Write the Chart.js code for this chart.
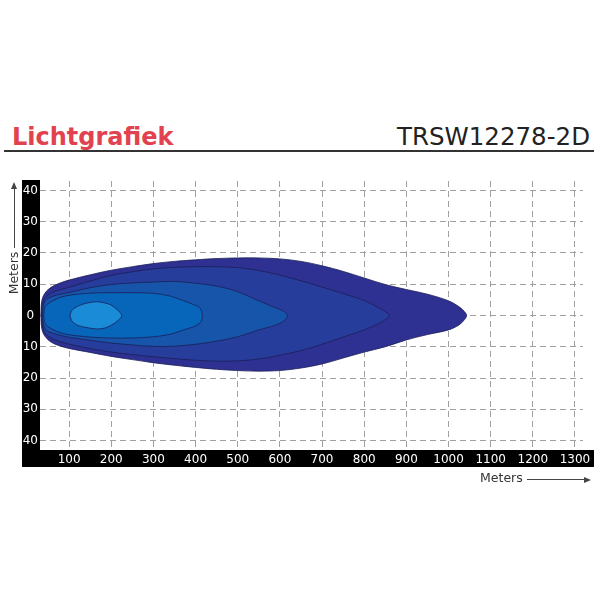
<!DOCTYPE html>
<html>
<head>
<meta charset="utf-8">
<script src="https://cdn.jsdelivr.net/npm/chart.js@4/dist/chart.umd.min.js"></script>
<style>
    body { margin: 0; background: #fff; font-family: "DejaVu Sans", Verdana, sans-serif; }
    #wrap { position: absolute; left: 0; top: 0; width: 600px; height: 600px; }
    .kop { position: absolute; white-space: nowrap; line-height: 24px; }
    #titel { left: 12px; top: 125px; font-size: 24px; font-weight: bold; color: #e2424f; }
    #code { right: 10px; top: 125px; font-size: 24.5px; color: #222; }
    #streep { position: absolute; left: 4px; top: 150px; width: 590px; height: 2px; background: #333; }
    .as { position: absolute; font-size: 12.5px; color: #333; white-space: nowrap; }
    #asY { left: 13px; top: 273px; transform: translate(-50%, -50%) rotate(-90deg); }
    #asX { left: 480px; top: 470px; }
    .pijl { position: absolute; background: #444; }
    #pijlY { left: 13.5px; top: 188px; width: 1px; height: 60px; }
    #pijlX { left: 527px; top: 479px; width: 58px; height: 1px; }
    #kopY { position: absolute; left: 11px; top: 182px; width: 0; height: 0;
        border-left: 3px solid transparent; border-right: 3px solid transparent; border-bottom: 7px solid #444; }
    #kopX { position: absolute; left: 584px; top: 476.5px; width: 0; height: 0;
        border-top: 3px solid transparent; border-bottom: 3px solid transparent; border-left: 7px solid #444; }
</style>
</head>
<body>
<div id="titel" class="kop">Lichtgrafiek</div>
<div id="code" class="kop">TRSW12278-2D</div>
<div id="streep"></div>
<div id="wrap"><canvas id="grafiek"></canvas></div>
<div id="asY" class="as">Meters</div>
<div id="pijlY" class="pijl"></div><div id="kopY"></div>
<div id="asX" class="as">Meters</div>
<div id="pijlX" class="pijl"></div><div id="kopX"></div>

<script>
// tick labels
var xTicks = [100, 200, 300, 400, 500, 600, 700, 800, 900, 1000, 1100, 1200, 1300];
var yTicks = [-40, -30, -20, -10, 0, 10, 20, 30, 40];

// lichtzones, van buiten (zwakst) naar binnen (sterkst)
var zone1X = [33, 35, 42, 55, 75, 102, 150, 197, 250, 300, 350, 400, 450, 500, 550, 600, 650, 700, 750, 800, 850, 900, 950, 1000, 1025, 1038, 1043,
    1038, 1025, 1000, 950, 900, 850, 800, 750, 700, 650, 600, 550, 500, 450, 400, 350, 300, 250, 197, 150, 102, 75, 55, 42, 35, 33];
var zone1Y = [0, 4.5, 7, 8.8, 10.2, 11.4, 13, 14.4, 15.6, 16.6, 17.3, 17.8, 18.2, 18.4, 18.4, 18.1, 17.3, 15.9, 14.1, 12, 9.9, 8.3, 6.8, 4.7, 2.8, 1.2, 0,
    -1.3, -3, -4.6, -6.1, -7.8, -10, -11.7, -13.6, -15.5, -16.8, -17.6, -17.8, -17.6, -17.2, -16.6, -15.9, -15.1, -14.1, -13, -11.8, -10.6, -9.6, -8.3, -6.5, -4, 0];

var zone2X = [35, 37, 44, 60, 80, 102, 150, 200, 250, 300, 350, 400, 450, 500, 550, 600, 650, 700, 750, 800, 835, 855, 859,
    855, 835, 800, 750, 700, 650, 600, 550, 500, 450, 400, 350, 300, 250, 200, 150, 102, 75, 55, 42, 37, 35];
var zone2Y = [0, 3.8, 5.8, 7.3, 8.3, 9.1, 11, 12.8, 14, 14.9, 15.4, 15.6, 15.6, 15.3, 14.4, 12.9, 11.1, 9.1, 7, 4.8, 2.4, 0.8, 0,
    -0.9, -2.5, -4.6, -6.9, -9.2, -11.2, -12.7, -13.9, -14.5, -14.6, -14.3, -13.8, -13.2, -12.5, -11.7, -10.6, -9.2, -8.2, -7.1, -5.5, -3.5, 0];

var zone3X = [37, 39, 47, 70, 102, 150, 200, 250, 300, 350, 400, 450, 500, 545, 580, 605, 615, 618,
    615, 605, 580, 550, 500, 450, 400, 350, 300, 250, 200, 150, 102, 70, 47, 39, 37];
var zone3Y = [0, 3.2, 5.2, 6.5, 7.4, 8.9, 9.9, 10.4, 10.7, 10.9, 10.3, 9.4, 7.6, 5, 3, 1.6, 0.7, 0,
    -1, -2.2, -3.5, -4.6, -6.8, -8.2, -9.2, -9.8, -9.9, -9.4, -8.8, -7.9, -7, -6, -4.8, -3, 0];

var zone4X = [40, 42, 50, 70, 90, 120, 160, 200, 250, 300, 340, 370, 395, 410, 415, 416,
    415, 410, 395, 370, 340, 300, 250, 200, 160, 120, 90, 70, 50, 42, 40];
var zone4Y = [0, 2.5, 3.8, 5.3, 6.2, 6.8, 7.2, 7.3, 7.3, 7.1, 6.2, 4.8, 3.5, 2.5, 1, 0,
    -1.2, -2.5, -3.6, -4.7, -6, -6.8, -7.2, -7.2, -7, -6.5, -5.9, -5, -3.6, -2.3, 0];

var zone5X = [102, 106, 118, 140, 165, 185, 200, 215, 225, 215, 200, 185, 165, 140, 118, 106, 102];
var zone5Y = [0, 1.5, 2.8, 3.9, 4.4, 4, 3.3, 1.7, 0, -1.7, -3.1, -4, -4.3, -3.8, -3, -1.6, 0];

function punten(xs, ys) {
    var uit = [];
    for (var i = 0; i < xs.length; i++) {
        uit.push({ x: xs[i], y: ys[i] });
    }
    return uit;
}

function zone(xs, ys, kleur, volgorde) {
    return {
        data: punten(xs, ys),
        backgroundColor: kleur,
        borderColor: "#1c1e55",
        borderWidth: 0.8,
        pointRadius: 0,
        tension: 0.35,
        fill: "shape",
        order: volgorde
    };
}

// zwarte balken achter de aslabels
var balken = {
    id: "balken",
    beforeDraw: function (chart) {
        var c = chart.ctx;
        var sx = chart.scales.x;
        var sy = chart.scales.y;
        c.save();
        c.fillStyle = "#000";
        c.fillRect(sy.left, sy.top - 1, sy.width, sy.height + sx.height + 1);
        c.fillRect(sy.left, sx.top, sx.right - sy.left + 11, sx.height);
        c.restore();
    }
};

var ctx = document.getElementById("grafiek");
var chart = new Chart(ctx, {
    type: "line",
    data: {
        datasets: [
            zone(zone1X, zone1Y, "#2e3192", 5),
            zone(zone2X, zone2Y, "#263d9b", 4),
            zone(zone3X, zone3Y, "#1655aa", 3),
            zone(zone4X, zone4Y, "#0765ba", 2),
            zone(zone5X, zone5Y, "#1a8bd6", 1)
        ]
    },
    options: {
        responsive: true,
        maintainAspectRatio: false,
        animation: false,
        layout: { padding: { left: 22, top: 181, right: 17, bottom: 133 } },
        plugins: { legend: { display: false }, tooltip: { enabled: false } },
        scales: {
            x: {
                type: "linear",
                min: 31,
                max: 1319,
                afterBuildTicks: function (s) { s.ticks = xTicks.map(function (v) { return { value: v }; }); },
                afterFit: function (s) { s.height = 17; },
                grid: { color: "#a0a0a0", lineWidth: 1, drawTicks: false },
                border: { display: false, dash: [6, 4] },
                ticks: {
                    color: "#fff",
                    padding: 3,
                    maxRotation: 0,
                    autoSkip: false,
                    font: { family: "DejaVu Sans", size: 12 },
                    callback: function (v) { return String(v); }
                }
            },
            y: {
                min: -43,
                max: 43,
                afterBuildTicks: function (s) { s.ticks = yTicks.map(function (v) { return { value: v }; }); },
                afterFit: function (s) { s.width = 18; },
                grid: { color: "#a0a0a0", lineWidth: 1, drawTicks: false },
                border: { display: false, dash: [6, 4] },
                ticks: {
                    color: "#fff",
                    padding: 2,
                    crossAlign: "center",
                    font: { family: "DejaVu Sans", size: 12 },
                    callback: function (v) { return String(Math.abs(v)); }
                }
            }
        }
    },
    plugins: [balken]
});
</script>
</body>
</html>
